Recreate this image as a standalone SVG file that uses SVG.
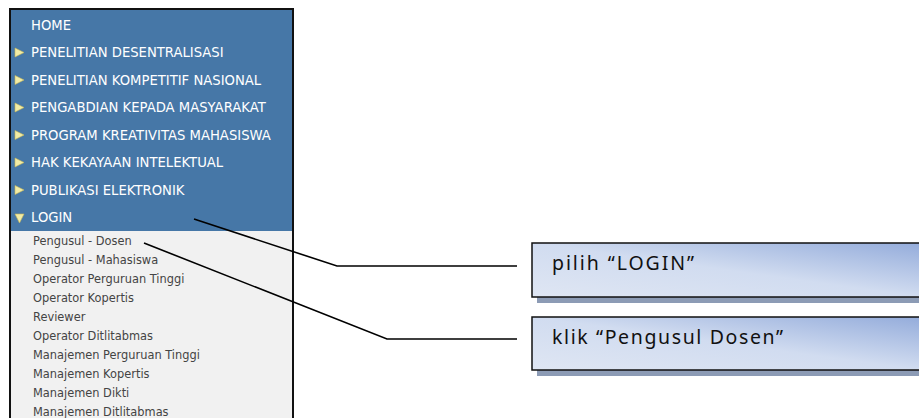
<svg xmlns="http://www.w3.org/2000/svg" width="919" height="418" viewBox="0 0 919 418">
<defs>
<style>
.top{font-family:"DejaVu Sans",Verdana,sans-serif;font-size:13.2px;fill:#ffffff}
.sub{font-family:"DejaVu Sans",Verdana,sans-serif;font-size:11.4px;fill:#444444}
.lbl{font-family:"Noto Sans","Open Sans",sans-serif;font-size:19.5px;fill:#111111}
.tri{fill:#f1eca6;stroke:#cdbb55;stroke-width:0.6}
.conn{fill:none;stroke:#000000;stroke-width:1.6}
.box{fill:url(#g);stroke:#111111;stroke-width:1.5}
.shadow{fill:#8c9bb5}
</style>
<linearGradient id="g" x1="0" y1="1" x2="1" y2="0">
<stop offset="0" stop-color="#dfe6f3"/>
<stop offset="0.5" stop-color="#d1dcf0"/>
<stop offset="1" stop-color="#94acdb"/>
</linearGradient>
</defs>
<rect x="0" y="0" width="919" height="418" fill="#ffffff"/>
<g id="menu">
<rect x="10" y="9" width="283" height="420" fill="#f1f1f1" stroke="#111111" stroke-width="2"/>
<rect x="11" y="10" width="281" height="221" fill="#4677a7"/>
<text class="top" x="31" y="30">HOME</text>
<polygon class="tri" points="15,48 24,52.5 15,57"/>
<text class="top" x="31" y="57.4">PENELITIAN DESENTRALISASI</text>
<polygon class="tri" points="15,75.5 24,80 15,84.5"/>
<text class="top" x="31" y="84.9">PENELITIAN KOMPETITIF NASIONAL</text>
<polygon class="tri" points="15,103 24,107.5 15,112"/>
<text class="top" x="31" y="112.3">PENGABDIAN KEPADA MASYARAKAT</text>
<polygon class="tri" points="15,130.5 24,135 15,139.5"/>
<text class="top" x="31" y="139.7">PROGRAM KREATIVITAS MAHASISWA</text>
<polygon class="tri" points="15,158 24,162.5 15,167"/>
<text class="top" x="31" y="167.1">HAK KEKAYAAN INTELEKTUAL</text>
<polygon class="tri" points="15,185.5 24,190 15,194.5"/>
<text class="top" x="31" y="194.6">PUBLIKASI ELEKTRONIK</text>
<polygon class="tri" points="15,214 24,214 19.5,223"/>
<text class="top" x="31" y="222">LOGIN</text>
<text class="sub" x="33" y="244.5">Pengusul - Dosen</text>
<text class="sub" x="33" y="263.6">Pengusul - Mahasiswa</text>
<text class="sub" x="33" y="282.7">Operator Perguruan Tinggi</text>
<text class="sub" x="33" y="301.8">Operator Kopertis</text>
<text class="sub" x="33" y="320.9">Reviewer</text>
<text class="sub" x="33" y="340">Operator Ditlitabmas</text>
<text class="sub" x="33" y="359.1">Manajemen Perguruan Tinggi</text>
<text class="sub" x="33" y="378.2">Manajemen Kopertis</text>
<text class="sub" x="33" y="397.3">Manajemen Dikti</text>
<text class="sub" x="33" y="416.4">Manajemen Ditlitabmas</text>
</g>
<g id="connectors">
<polyline class="conn" points="194,219 337,266 517,266"/>
<polyline class="conn" points="144,243 387,339 517,339"/>
</g>
<g id="box-login">
<rect class="shadow" x="537" y="248" width="390" height="55"/>
<rect class="box" x="532" y="243" width="390" height="54"/>
<text class="lbl" x="552" y="270" textLength="142" lengthAdjust="spacing">pilih “LOGIN”</text>
</g>
<g id="box-dosen">
<rect class="shadow" x="537" y="322" width="390" height="54"/>
<rect class="box" x="532" y="317" width="390" height="53"/>
<text class="lbl" x="552" y="344" textLength="231" lengthAdjust="spacing">klik “Pengusul Dosen”</text>
</g>
</svg>
